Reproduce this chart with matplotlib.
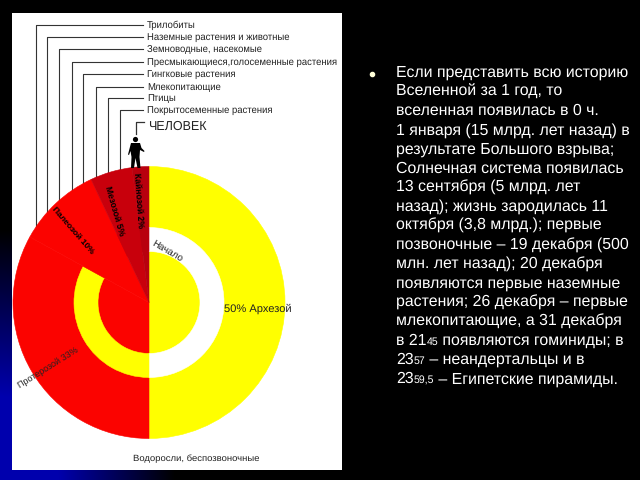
import matplotlib
matplotlib.use('Agg')
import matplotlib.pyplot as plt
import numpy as np
from matplotlib.patches import Circle, Polygon, Rectangle

plt.rcParams['font.family'] = ['Liberation Sans', 'DejaVu Sans']
plt.rcParams['text.hinting'] = 'none'

# доли эр, в процентах
eras = ['Архезой', 'Протерозой', 'Палеозой', 'Мезозой', 'Кайнозой']
shares = [50, 33, 10, 5, 2]
outer_colors = ['#ffff00', '#fb0300', '#fb0300', '#c8000c', '#b8000e']
ring_colors = ['#ffffff', '#ffff00', '#fb0300', '#c8000c', '#b8000e']

leader_labels = ['Трилобиты', 'Наземные растения и животные', 'Земноводные, насекомые',
                 'Пресмыкающиеся,голосеменные растения', 'Гингковые растения',
                 'Млекопитающие', 'Птицы', 'Покрытосеменные растения']
leader_y = [25, 37, 49, 62, 74, 87, 98, 110]
leader_x = [36, 47, 59, 72, 83, 96, 108, 120]

# строки текста справа: (текст, мелкий шрифт?)
text_lines = [
    [('Если представить всю историю', False)],
    [('Вселенной за 1 год, то', False)],
    [('вселенная появилась в 0 ч.', False)],
    [('1 января (15 млрд. лет назад) в', False)],
    [('результате Большого взрыва;', False)],
    [('Солнечная система появилась', False)],
    [('13 сентября (5 млрд. лет', False)],
    [('назад); жизнь зародилась 11', False)],
    [('октября (3,8 млрд.); первые', False)],
    [('позвоночные – 19 декабря (500', False)],
    [('млн. лет назад); 20 декабря', False)],
    [('появляются первые наземные', False)],
    [('растения; 26 декабря – первые', False)],
    [('млекопитающие, а 31 декабря', False)],
    [('в 21', False), ('45', True), (' появляются гоминиды; в', False)],
    [('23', False), ('57', True), (' – неандертальцы и в', False)],
    [('23', False), ('59,5', True), (' – Египетские пирамиды.', False)],
]

cx, cy, R = 149, 302.5, 136

fig = plt.figure(figsize=(6.4, 4.8), dpi=100, facecolor='black')
ax = fig.add_axes([0, 0, 1, 1])

# синий угол фона
xx, yy = np.meshgrid(np.arange(640) + 0.5, np.arange(480) + 0.5)
glow = np.clip(1 - np.hypot(xx / 175, (480 - yy) / 250), 0, 1)
bg = np.zeros((480, 640, 3))
bg[..., 2] = np.clip(glow * 1.5, 0, 1) * 0.68
ax.imshow(bg, extent=(0, 640, 480, 0), aspect='auto', zorder=0)

ax.add_patch(Rectangle((12, 13), 330, 457, fc='white', ec='none', zorder=1))

# y идет вниз, поэтому рост угла идет по часовой стрелке
outer, _ = ax.pie(shares, colors=outer_colors, radius=R, center=(cx, cy), startangle=-90,
                  wedgeprops=dict(zorder=2))
ring, _ = ax.pie(shares, colors=ring_colors, radius=75, center=(cx, cy), startangle=-90,
                 wedgeprops=dict(width=24, zorder=3))
# убираем белые швы между секторами
for w in outer + ring:
    w.set_edgecolor(w.get_facecolor())
    w.set_linewidth(0.4)
ax.set_xlim(0, 640)
ax.set_ylim(480, 0)
ax.set_aspect('auto')
ax.axis('off')

line_color = '#333333'
for name, ly, lx in zip(leader_labels, leader_y, leader_x):
    top = cy - np.sqrt(R**2 - (lx - cx)**2)
    ax.plot([143, lx, lx], [ly, ly, top], color=line_color, lw=0.8, zorder=1.5)
    ax.text(147, ly, name, fontsize=6.85, color='#222222', va='center', ha='left', zorder=5)

# человек
ax.plot([136, 136, 144], [134, 122, 122], color=line_color, lw=0.9, zorder=1.5)
ax.text(148, 127, 'ЧЕЛОВЕК', fontsize=9, color='#222222', va='center', ha='left', zorder=5)
ax.add_patch(Circle((135.5, 139.5), 2.6, fc='black', ec='none', zorder=5))
ax.add_patch(Polygon([(131, 143), (140, 143), (141.5, 148), (144.5, 151), (144, 152),
                      (140, 150), (139.5, 157), (140.5, 168), (137.5, 168), (135.5, 158),
                      (134, 168), (131, 168), (131.5, 157), (130.5, 151), (129, 155),
                      (128, 154.5)], fc='black', ec='none', zorder=5))

ax.text(257.5, 309, '50% Архезой', fontsize=8, color='#222222', ha='center', va='center', zorder=5)
ax.text(167, 251, 'Начало', fontsize=7, color='#222222', ha='center', va='center', rotation=-30, zorder=5)
ax.text(48, 368, 'Протерозой 33%', fontsize=6.5, color='#222222', ha='center', va='center', rotation=32, zorder=5)
ax.text(72, 231, 'Палеозой 10%', fontsize=6.1, color='black', ha='center', va='center',
        rotation=-49, fontweight='bold', zorder=5)
ax.text(114, 211, 'Мезозой 5%', fontsize=6.3, color='black', ha='center', va='center',
        rotation=-74, fontweight='bold', zorder=5)
ax.text(138.5, 200, 'Кайнозой 2%', fontsize=6.2, color='black', ha='center', va='center',
        rotation=-86, fontweight='bold', zorder=5)
ax.text(196.5, 459, 'Водоросли, беспозвоночные', fontsize=6.8, color='#222222', ha='center', va='center', zorder=5)

# основной текст, мелкие цифры идут отдельными кусками
ax.plot([372], [73.5], marker='o', ms=3, color='#ffffd8', zorder=5)
renderer = fig.canvas.get_renderer()
for i, parts in enumerate(text_lines):
    y = 77 + i * 19.14
    x = 396
    for part, small in parts:
        t = ax.text(x, y, part, color='white', fontsize=7.6 if small else 11.4,
                    va='baseline', ha='left', zorder=5)
        x += t.get_window_extent(renderer).width

fig.savefig('out.png', dpi=100, facecolor='black')
